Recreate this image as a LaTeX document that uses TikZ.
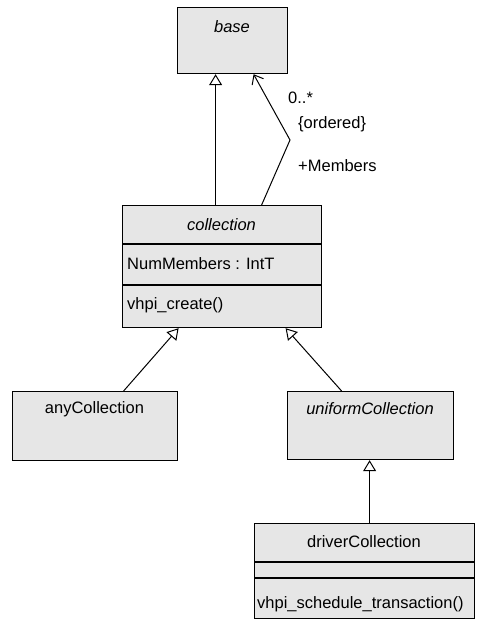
\documentclass[tikz,border=0pt]{standalone}
\usepackage{fontspec}
\setmainfont{Liberation Sans}
\usetikzlibrary{arrows.meta, positioning, calc}
\definecolor{classfill}{RGB}{230,230,230}

\begin{document}
\begin{tikzpicture}[
  x=1pt, y=1pt,
  every node/.style={font=\fontsize{16.5}{19}\selectfont},
  cls/.style={draw, line width=1.2pt, fill=classfill, anchor=north west,
              inner sep=0pt},
  txt/.style={inner sep=0pt, anchor=base west},
  gen/.style={line width=1pt, -{Triangle[open, length=11pt, width=13pt, line width=1pt]}},
  assoc/.style={line width=1pt, -{Straight Barb[length=8pt, width=13pt, line width=1pt]}}
]
\useasboundingbox (0,0) rectangle (478,-620);

% classes
\node[cls, minimum width=110pt, minimum height=66pt] (base) at (177,-7) {};
\node[cls, minimum width=199pt, minimum height=122pt] (collection) at (122,-205) {};
\node[cls, minimum width=165pt, minimum height=69pt] (any) at (12,-391) {};
\node[cls, minimum width=166pt, minimum height=68pt] (uniform) at (287,-391) {};
\node[cls, minimum width=220pt, minimum height=95pt] (driver) at (254,-523) {};

% compartments
\draw[line width=1.2pt] (collection.west |- 0,-244) -- (collection.east |- 0,-244);
\draw[line width=1.2pt] (collection.west |- 0,-285) -- (collection.east |- 0,-285);
\draw[line width=1.2pt] (driver.west |- 0,-562) -- (driver.east |- 0,-562);
\draw[line width=1.2pt] (driver.west |- 0,-578) -- (driver.east |- 0,-578);

% names
\node (basename) at (232,-27) {\itshape base};
\node (collname) at (221.5,-225) {\itshape collection};
\node[txt] (numm) at (127,-269) {NumMembers : IntT};
\node[txt] (create) at (127,-309) {vhpi\_create()};
\node (anyname) at (94.5,-409) {anyCollection};
\node (uniname) at (370,-409) {\itshape uniformCollection};
\node (drvname) at (364,-542) {driverCollection};
\node[txt] (sched) at (257,-608) {vhpi\_schedule\_transaction()};

% links
\coordinate (kink) at (290,-140);
\draw[gen] ([xshift=-6.5pt]collection.north) -- ([xshift=-17pt]base.south);
\draw[assoc] ([xshift=39.5pt]collection.north) -- (kink) -- ([xshift=21pt]base.south);
\draw[gen] ([xshift=28.5pt]any.north) -- ([xshift=-43.5pt]collection.south);
\draw[gen] ([xshift=-29pt]uniform.north) -- ([xshift=63.5pt]collection.south);
\draw[gen] ([xshift=5pt]driver.north) -- ([xshift=-1pt]uniform.south);

\node[txt, anchor=west] (mult) at (288,-98) {0..*};
\node[txt, anchor=west] (ord) at (298,-124) {\{ordered\}};
\node[txt, anchor=west] (role) at (298,-166) {+Members};
\end{tikzpicture}
\end{document}
